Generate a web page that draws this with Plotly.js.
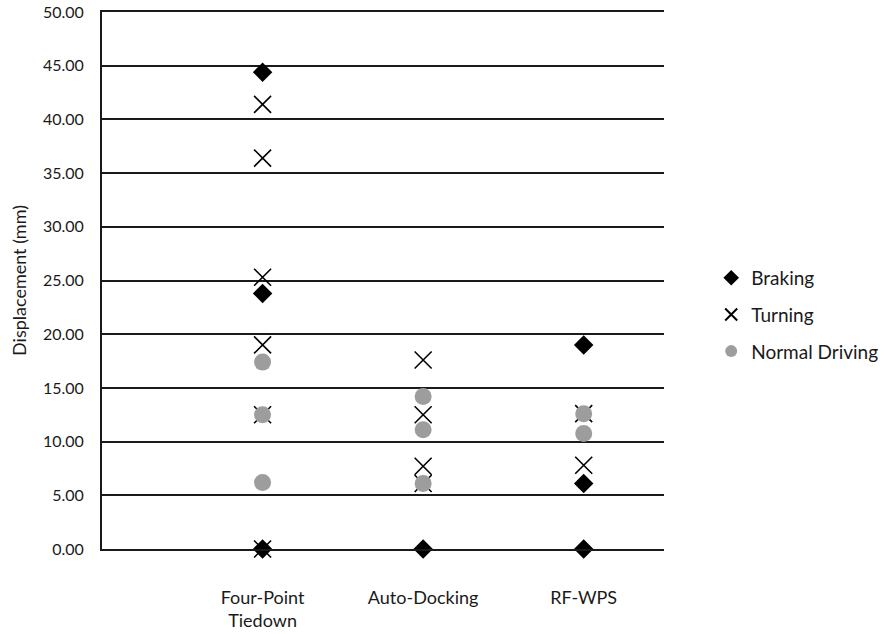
<!DOCTYPE html>
<html>
<head>
<meta charset="utf-8">
<script src="https://cdn.plot.ly/plotly-3.0.1.min.js"></script>
<style>
  html, body { margin: 0; padding: 0; background: #fff; }
  #chart { width: 884px; height: 634px; }
</style>
</head>
<body>
<div id="chart"></div>
<script>
// Restraint systems compared on the x axis
const categories = ['Four-Point<br>Tiedown', 'Auto-Docking', 'RF-WPS'];

// Measured displacement (mm) per restraint system, one inner list per category
const braking = [[44.4, 23.8, 0], [0], [19.0, 6.1, 0]];
const turning = [[41.4, 36.4, 25.3, 19.0, 12.5, 0], [17.6, 12.5, 7.7, 6.1], [12.6, 7.8]];
const normalDriving = [[17.4, 12.5, 6.2], [14.2, 11.1, 6.1], [12.6, 10.75]];

// Y axis ticks
const yTicks = [0, 5, 10, 15, 20, 25, 30, 35, 40, 45, 50];
const yTickLabels = yTicks.map(v => v.toFixed(2));

const FONT = 'Lato, "Open Sans", sans-serif';
const INK = '#1a1a1a';

function flatten(groups) {
  const x = [], y = [];
  groups.forEach((vals, i) => vals.forEach(v => { x.push(i + 1); y.push(v); }));
  return { x, y };
}

const b = flatten(braking), t = flatten(turning), n = flatten(normalDriving);

const traces = [
  {
    name: 'Braking', type: 'scatter', mode: 'markers', x: b.x, y: b.y,
    legendgroup: 'a', cliponaxis: false,
    marker: { symbol: 'diamond', size: 15, color: '#000' }
  },
  {
    name: 'Turning', type: 'scatter', mode: 'markers', x: t.x, y: t.y,
    legendgroup: 'b', cliponaxis: false,
    marker: { symbol: 'x-thin-open', size: 17, color: '#000', line: { color: '#000', width: 1.6 } }
  },
  {
    name: 'Normal Driving', type: 'scatter', mode: 'markers', x: n.x, y: n.y,
    legendgroup: 'c', cliponaxis: false,
    marker: { symbol: 'circle', size: 17, color: '#9d9d9d' }
  }
];

const layout = {
  width: 884, height: 634,
  margin: { l: 102, r: 220, t: 12, b: 85, autoexpand: false },
  paper_bgcolor: '#fff', plot_bgcolor: '#fff',
  font: { family: FONT, size: 16, color: INK },
  showlegend: true,
  hovermode: false,
  legend: {
    x: 1.084, y: 0.436, xanchor: 'left', yanchor: 'middle',
    font: { family: FONT, size: 19, color: INK },
    tracegroupgap: 9, itemsizing: 'constant'
  },
  xaxis: {
    range: [0, 3.5],
    tickvals: [1, 2, 3],
    ticktext: categories,
    showgrid: false, zeroline: false,
    showline: true, mirror: true, linecolor: INK, linewidth: 2,
    ticks: '', ticklabelstandoff: 31,
    tickfont: { family: FONT, size: 18, color: INK }
  },
  yaxis: {
    range: [0, 50],
    tickvals: yTicks,
    ticktext: yTickLabels,
    showgrid: true, gridcolor: INK, gridwidth: 2,
    zeroline: true, zerolinecolor: INK, zerolinewidth: 2,
    showline: true, linecolor: INK, linewidth: 2,
    ticks: '', ticklabelstandoff: 13,
    tickfont: { family: FONT, size: 16, color: INK },
    title: { text: 'Displacement (mm)', standoff: 12, font: { family: FONT, size: 18, color: INK } }
  }
};

Plotly.newPlot('chart', traces, layout, { displayModeBar: false, staticPlot: true });
</script>
</body>
</html>
